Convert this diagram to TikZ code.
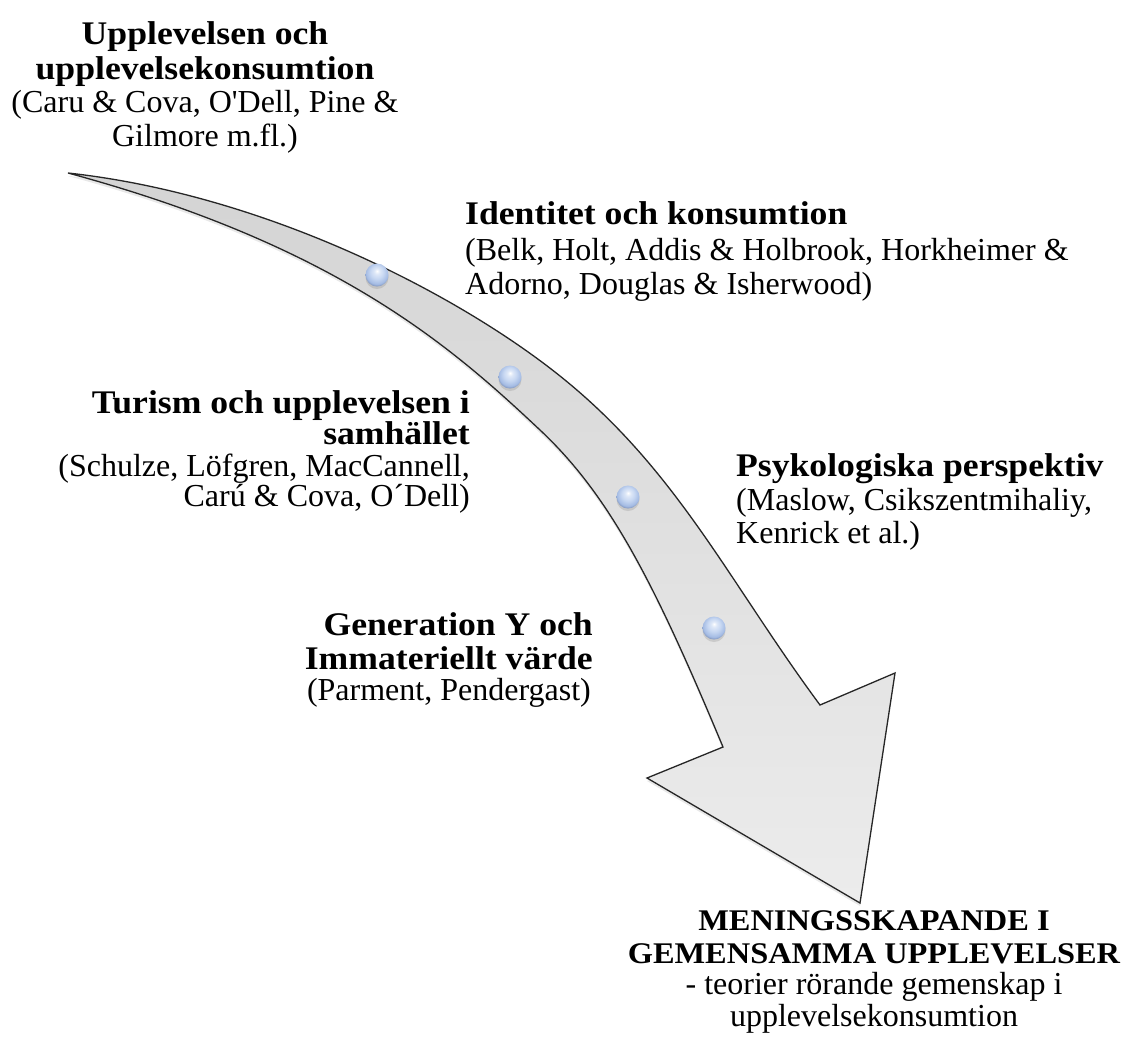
\documentclass[tikz,border=0pt]{standalone}
\usepackage{fontspec}
\setmainfont{Liberation Serif}[BoldFeatures={FakeStretch=1.08}]
\usetikzlibrary{shadows}
\definecolor{ballbody}{RGB}{200,216,242}
\definecolor{ballmid}{RGB}{165,188,228}
\definecolor{balledge}{RGB}{118,138,178}
\definecolor{arrowtop}{RGB}{212,212,212}
\definecolor{arrowbot}{RGB}{236,236,236}
\pgfdeclareradialshading{glossball}{\pgfpoint{0bp}{9bp}}{%
  color(0bp)=(white); color(6bp)=(white!40!ballbody); color(14bp)=(ballbody);
  color(24bp)=(ballmid); color(30bp)=(balledge); color(50bp)=(balledge)}
\begin{document}
\begin{tikzpicture}[x=1pt,y=-1pt,
  lbl/.style={inner sep=0pt, font=\fontsize{32}{34}\selectfont},
  hdr/.style={inner sep=0pt, font=\fontsize{33}{35}\selectfont\bfseries},
  caphdr/.style={inner sep=0pt, font=\fontsize{30}{34}\selectfont\bfseries},
  arrowbody/.style={draw=black!85, line width=1.3pt, line join=miter,
    top color=arrowtop, bottom color=arrowbot,
    drop shadow={opacity=0.18, shadow xshift=0pt, shadow yshift=-3pt}},
  dotball/.style={circle, minimum size=23pt, inner sep=0pt, shading=glossball,
    drop shadow={opacity=0.25, shadow xshift=0pt, shadow yshift=-2.5pt}}
]
\useasboundingbox[fill=white] (0,0) rectangle (1121,1037);

% curved arrow
\path[arrowbody]
  (68,173) .. controls (266.8,194.8) and (458.5,294.75) .. (560,376)
  .. controls (677.2,469.75) and (729,582) .. (820,705)
  -- (895,673) -- (860,903) -- (647,778) -- (723,747)
  .. controls (653.7,580.9) and (609.3,495.1) .. (540,430)
  .. controls (452.5,347.8) and (338.2,246.1) .. (68,173)
  -- cycle;

% dots
\node[dotball] (d1) at (377,275) {};
\node[dotball] (d2) at (510,377) {};
\node[dotball] (d3) at (628,497) {};
\node[dotball] (d4) at (714,628) {};

% top block
\node[hdr, anchor=base] (a1) at (205,44) {Upplevelsen och};
\node[hdr, anchor=base] (a2) at (205,79) {upplevelsekonsumtion};
\node[lbl, anchor=base] (a3) at (205,112) {(Caru \& Cova, O\textquotesingle Dell, Pine \&};
\node[lbl, anchor=base] (a4) at (205,146) {Gilmore m.fl.)};

% Identitet block
\node[hdr, anchor=base west] (b1) at (465,224) {Identitet och konsumtion};
\node[lbl, anchor=base west] (b2) at (465,260) {(Belk, Holt, Addis \& Holbrook, Horkheimer \&};
\node[lbl, anchor=base west] (b3) at (465,294) {Adorno, Douglas \& Isherwood)};

% Turism block
\node[hdr, anchor=base east] (c1) at (470,413) {Turism och upplevelsen i};
\node[hdr, anchor=base east] (c2) at (470,444) {samhället};
\node[lbl, anchor=base east] (c3) at (470,476) {(Schulze, Löfgren, MacCannell,};
\node[lbl, anchor=base east] (c4) at (470,506) {Carú \& Cova, O´Dell)};

% Psykologiska block
\node[hdr, anchor=base west] (e1) at (736,476) {Psykologiska perspektiv};
\node[lbl, anchor=base west] (e2) at (736,510) {(Maslow, Csikszentmihaliy,};
\node[lbl, anchor=base west] (e3) at (736,543) {Kenrick et al.)};

% Generation block
\node[hdr, anchor=base east] (f1) at (593,635) {Generation Y och};
\node[hdr, anchor=base east] (f2) at (593,669) {Immateriellt värde};
\node[lbl, anchor=base east] (f3) at (591,700) {(Parment, Pendergast)};

% bottom block
\node[caphdr, anchor=base] (g1) at (874,930) {MENINGSSKAPANDE I};
\node[caphdr, anchor=base] (g2) at (874,963) {GEMENSAMMA UPPLEVELSER};
\node[lbl, anchor=base] (g3) at (874,994) {- teorier rörande gemenskap i};
\node[lbl, anchor=base] (g4) at (874,1026) {upplevelsekonsumtion};
\end{tikzpicture}
\end{document}
